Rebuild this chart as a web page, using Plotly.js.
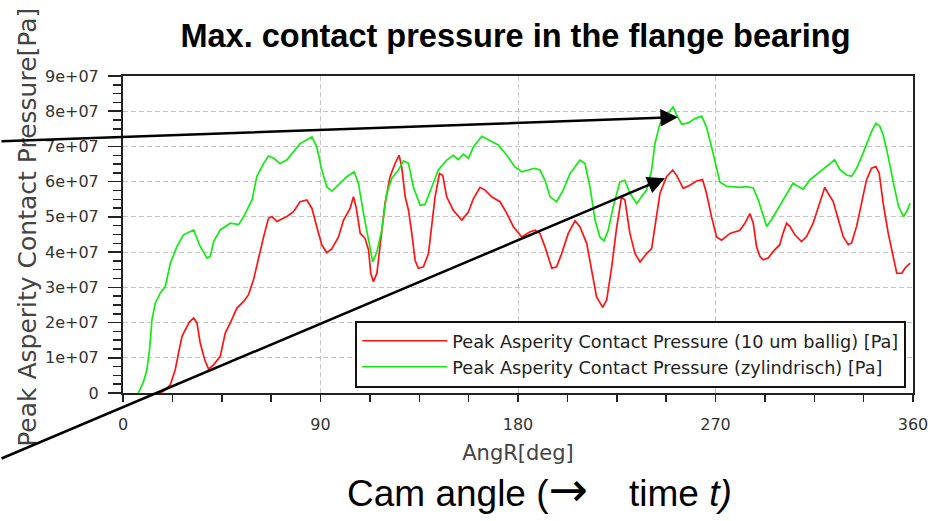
<!DOCTYPE html>
<html>
<head>
<meta charset="utf-8">
<script src="https://cdn.plot.ly/plotly-3.0.1.min.js"></script>
<style>
  html, body { margin: 0; padding: 0; background: #ffffff; }
  #chart { width: 931px; height: 521px; }
</style>
</head>
<body>
<div id="chart"></div>
<script>
// Cam angle [deg] and peak asperity contact pressure [Pa], crowned bearing (10 um ballig)
const angleBallig = [17, 19.3, 21.6, 23.8, 25.3, 26.9, 28.4, 30.4, 32.2, 33.7, 35.2, 37.2, 39, 41.3, 44.3, 46.6, 48.9, 51.9, 55, 57.2, 59.5, 61.8, 64.1, 66.3, 67.9, 70.1, 72.4, 74.7, 77.7, 80.7, 83.8, 86.1, 88.3, 90.6, 92.9, 95.2, 98.2, 100.5, 103.5, 105, 106.2, 108.1, 110.3, 111.9, 112.9, 114.1, 115.7, 117.2, 119.4, 121.7, 124, 125.8, 127, 128.6, 130.1, 131.6, 133.1, 134.6, 136.9, 139.2, 140.7, 142.2, 144.2, 145.7, 147.5, 150.5, 154.4, 157.4, 159.7, 162.7, 165, 168, 171.8, 174.9, 177.9, 181.7, 185.5, 187.8, 190, 192.3, 195.4, 197.6, 199.9, 202.9, 206, 208.2, 211.3, 213.6, 215.8, 218.6, 220.4, 222.7, 225, 227.2, 228.7, 231, 233.3, 235.6, 238.6, 240.9, 242.4, 244.7, 247.7, 250.5, 252.3, 255.3, 258.3, 261.4, 264.1, 265.9, 268.2, 270.5, 272.8, 276.6, 281.1, 283.4, 285.7, 287.2, 288.7, 290.2, 291.7, 294, 296.3, 299.3, 300.8, 302.4, 303.9, 306.2, 309.2, 311.5, 314.5, 317.6, 319.8, 321.3, 323.6, 326, 328.2, 330.5, 332, 334.3, 336.6, 338.8, 341.1, 343.1, 344.6, 346.4, 348.7, 351.1, 352.6, 354.9, 356.4, 358.7];
const pressureBallig = [0, 0.09e7, 0.24e7, 0.66e7, 1.13e7, 1.61e7, 1.80e7, 2.03e7, 2.13e7, 1.99e7, 1.42e7, 0.95e7, 0.68e7, 0.80e7, 1.04e7, 1.70e7, 1.99e7, 2.41e7, 2.60e7, 2.79e7, 3.22e7, 3.88e7, 4.44e7, 4.96e7, 5.01e7, 4.87e7, 4.94e7, 5.01e7, 5.15e7, 5.43e7, 5.48e7, 5.24e7, 4.72e7, 4.20e7, 3.98e7, 4.10e7, 4.43e7, 4.91e7, 5.24e7, 5.57e7, 5.29e7, 4.53e7, 4.39e7, 4.06e7, 3.40e7, 3.16e7, 3.40e7, 4.25e7, 5.38e7, 6.14e7, 6.52e7, 6.75e7, 6.42e7, 5.57e7, 5.19e7, 4.53e7, 3.77e7, 3.54e7, 3.58e7, 3.96e7, 4.72e7, 5.57e7, 6.23e7, 6.18e7, 5.57e7, 5.19e7, 4.91e7, 5.14e7, 5.52e7, 5.84e7, 5.76e7, 5.57e7, 5.43e7, 5.10e7, 4.72e7, 4.43e7, 4.58e7, 4.62e7, 4.53e7, 4.15e7, 3.54e7, 3.58e7, 3.96e7, 4.53e7, 4.89e7, 4.72e7, 4.25e7, 3.49e7, 2.73e7, 2.43e7, 2.64e7, 3.58e7, 4.72e7, 5.57e7, 5.48e7, 4.53e7, 3.96e7, 3.72e7, 3.96e7, 4.10e7, 4.72e7, 5.67e7, 6.14e7, 6.33e7, 6.18e7, 5.81e7, 5.90e7, 6.02e7, 6.06e7, 5.67e7, 5.00e7, 4.43e7, 4.34e7, 4.53e7, 4.62e7, 4.82e7, 5.09e7, 4.82e7, 4.16e7, 3.88e7, 3.78e7, 3.83e7, 4.02e7, 4.21e7, 4.54e7, 4.82e7, 4.73e7, 4.49e7, 4.30e7, 4.44e7, 4.82e7, 5.39e7, 5.84e7, 5.67e7, 5.44e7, 4.92e7, 4.44e7, 4.21e7, 4.26e7, 4.73e7, 5.39e7, 6.05e7, 6.38e7, 6.43e7, 6.24e7, 5.39e7, 4.54e7, 3.78e7, 3.40e7, 3.40e7, 3.55e7, 3.69e7];

// Cam angle [deg] and peak asperity contact pressure [Pa], cylindrical bearing (zylindrisch)
const angleZyl = [7, 9.4, 10.9, 12.1, 13.2, 14.7, 17, 19.3, 21.6, 24.6, 27.6, 32.2, 35.2, 38.3, 39.8, 41.3, 44.3, 48.9, 52.7, 55, 58.8, 61, 64.1, 66.3, 68.6, 71.6, 74.7, 78.5, 80.7, 86.1, 88.3, 90.6, 92.9, 95.2, 99, 102, 105.3, 107.3, 109.6, 111.9, 113.8, 115.7, 117.9, 120.2, 122.5, 125.5, 127.8, 130.1, 132.3, 135.4, 137.7, 140.7, 143.7, 147.5, 150.5, 152.8, 155.1, 157.4, 159.7, 163.5, 166.5, 171, 174.9, 178.6, 181.7, 185.5, 187.5, 190, 192.3, 194.6, 197.6, 200.6, 203.7, 208.2, 210.5, 212.8, 215.1, 217.3, 219.2, 221.1, 223.4, 226.4, 228.7, 231, 234.1, 236.3, 238.6, 240.9, 242.4, 244.7, 248.5, 250.7, 252.3, 254.6, 257.6, 260.6, 263.7, 265.9, 268.2, 270.5, 272, 275, 281.1, 284.1, 287.2, 289.5, 291.7, 293.3, 295.5, 298.6, 302.4, 305.4, 307.7, 310, 313, 317.6, 321.3, 324.3, 326.7, 329.7, 332, 334.3, 336.6, 338.8, 341.1, 343.1, 344.9, 346.4, 348.7, 351.1, 353.4, 355.7, 357.2, 358.7];
const pressureZyl = [0, 0.33e7, 0.66e7, 1.23e7, 2.08e7, 2.55e7, 2.84e7, 3.03e7, 3.69e7, 4.16e7, 4.49e7, 4.63e7, 4.16e7, 3.83e7, 3.88e7, 4.30e7, 4.63e7, 4.82e7, 4.78e7, 5.01e7, 5.48e7, 6.15e7, 6.52e7, 6.73e7, 6.67e7, 6.51e7, 6.62e7, 6.90e7, 7.08e7, 7.27e7, 6.99e7, 6.33e7, 5.85e7, 5.73e7, 5.95e7, 6.14e7, 6.28e7, 5.95e7, 5.10e7, 4.34e7, 3.72e7, 4.01e7, 4.62e7, 5.67e7, 6.09e7, 6.33e7, 6.59e7, 6.52e7, 5.85e7, 5.33e7, 5.36e7, 5.85e7, 6.33e7, 6.61e7, 6.75e7, 6.63e7, 6.78e7, 6.66e7, 6.99e7, 7.29e7, 7.18e7, 7.04e7, 6.75e7, 6.42e7, 6.28e7, 6.35e7, 6.38e7, 6.33e7, 6.04e7, 5.57e7, 5.43e7, 5.76e7, 6.23e7, 6.61e7, 6.52e7, 5.85e7, 4.91e7, 4.43e7, 4.32e7, 4.62e7, 5.29e7, 5.99e7, 6.04e7, 5.67e7, 5.38e7, 5.57e7, 5.76e7, 6.33e7, 7.08e7, 7.65e7, 7.93e7, 8.12e7, 7.89e7, 7.63e7, 7.67e7, 7.79e7, 7.86e7, 7.55e7, 6.99e7, 6.42e7, 5.99e7, 5.87e7, 5.84e7, 5.86e7, 5.82e7, 5.48e7, 5.01e7, 4.73e7, 4.92e7, 5.25e7, 5.63e7, 5.96e7, 5.86e7, 5.79e7, 6.05e7, 6.29e7, 6.48e7, 6.62e7, 6.34e7, 6.19e7, 6.15e7, 6.38e7, 6.71e7, 7.04e7, 7.42e7, 7.66e7, 7.57e7, 7.33e7, 6.71e7, 5.96e7, 5.30e7, 5.01e7, 5.16e7, 5.39e7];

// Axis ticks
const xTickVals = [0, 90, 180, 270, 360];
const yTickVals = [0, 1e7, 2e7, 3e7, 4e7, 5e7, 6e7, 7e7, 8e7, 9e7];
const yTickText = ['0', '1e+07', '2e+07', '3e+07', '4e+07', '5e+07', '6e+07', '7e+07', '8e+07', '9e+07'];

// Series names
const nameBallig = 'Peak Asperity Contact Pressure (10 um ballig) [Pa]';
const nameZyl = 'Peak Asperity Contact Pressure (zylindrisch) [Pa]';

const uiFont = 'DejaVu Sans, Verdana, sans-serif';
const slideFont = 'Liberation Sans, Arial, sans-serif';
const axisColor = '#222222';

const traces = [
  {
    x: angleBallig, y: pressureBallig, name: nameBallig,
    type: 'scatter', mode: 'lines',
    line: { color: 'rgb(255,20,20)', width: 1.7 }
  },
  {
    x: angleZyl, y: pressureZyl, name: nameZyl,
    type: 'scatter', mode: 'lines',
    line: { color: 'rgb(20,235,20)', width: 1.7 }
  }
];

const axisCommon = {
  showline: true, linecolor: axisColor, linewidth: 2, mirror: true,
  showgrid: true, gridcolor: '#c4c4c4', gridwidth: 1, griddash: '5px,3px',
  zeroline: false, ticks: 'outside', tickcolor: axisColor, tickwidth: 1.5,
  tickfont: { family: uiFont, size: 16, color: '#333333' }
};

const layout = {
  width: 931, height: 521, autosize: false,
  margin: { l: 123, r: 18, t: 76, b: 128 },
  paper_bgcolor: '#ffffff', plot_bgcolor: '#ffffff',
  showlegend: true,
  title: {
    text: 'Max. contact pressure in the flange bearing',
    font: { family: slideFont, size: 32.5, color: '#000000', weight: 'bold' },
    xref: 'container', x: 0.5537, xanchor: 'center',
    yref: 'container', y: 0.931, yanchor: 'middle'
  },
  xaxis: Object.assign({}, axisCommon, {
    range: [0, 360], tickmode: 'array', tickvals: xTickVals,
    ticklen: 7, ticklabelstandoff: 9,
    minor: { tickmode: 'linear', tick0: 0, dtick: 22.5, ticks: 'outside', ticklen: 7, tickcolor: axisColor, showgrid: false },
    title: { text: 'AngR[deg]', font: { family: uiFont, size: 21, color: '#444444' }, standoff: 12 }
  }),
  yaxis: Object.assign({}, axisCommon, {
    range: [0, 9e7], tickmode: 'array', tickvals: yTickVals, ticktext: yTickText,
    ticklen: 13, ticklabelstandoff: 6,
    minor: { tickmode: 'linear', tick0: 0, dtick: 2.5e6, ticks: 'outside', ticklen: 8, tickcolor: axisColor, showgrid: false }
  }),
  legend: {
    x: 0.294, y: 0.228, xanchor: 'left', yanchor: 'top',
    bgcolor: '#ffffff', bordercolor: '#111111', borderwidth: 2,
    font: { family: uiFont, size: 17.7, color: '#222222' },
    itemwidth: 85, tracegroupgap: 0
  },
  annotations: [
    {
      text: 'Peak Asperity Contact Pressure[Pa]', showarrow: false, textangle: -90,
      xref: 'paper', yref: 'paper', x: -0.1203, y: 0.524, xanchor: 'center', yanchor: 'middle',
      font: { family: uiFont, size: 25, color: '#444444' }
    },
    {
      text: 'Cam angle (<span style="font-family:DejaVu Sans;font-size:47px">\u2192</span>\u00a0\u00a0\u00a0\u00a0time <i>t)</i>', showarrow: false,
      xref: 'paper', yref: 'paper', x: 0.5266, y: -0.303, xanchor: 'center', yanchor: 'middle',
      font: { family: slideFont, size: 37, color: '#000000' }
    },
    {
      text: '', showarrow: true, xref: 'x', yref: 'y', x: 252.9, y: 7.83e7,
      ax: -683, ay: 24, arrowhead: 2, arrowsize: 1.4, arrowwidth: 2.5, arrowcolor: '#000000'
    },
    {
      text: '', showarrow: true, xref: 'x', yref: 'y', x: 246.95, y: 6.10e7,
      ax: -670, ay: 281, arrowhead: 2, arrowsize: 1.4, arrowwidth: 2.5, arrowcolor: '#000000'
    }
  ]
};

Plotly.newPlot('chart', traces, layout, { staticPlot: true, displayModeBar: false });
</script>
</body>
</html>
